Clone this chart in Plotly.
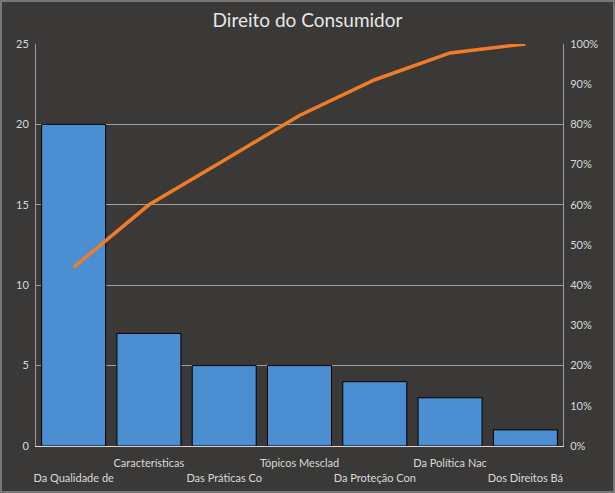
import plotly.graph_objects as go

categories = ["Da Qualidade de", "Características", "Das Práticas Co", "Tópicos Mesclad",
              "Da Proteção Con", "Da Política Nac", "Dos Direitos Bá"]
counts = [20, 7, 5, 5, 4, 3, 1]
total = sum(counts)
cumulative = []
s = 0
for c in counts:
    s += c
    cumulative.append(s / total)

left_ticks = [0, 5, 10, 15, 20, 25]
right_ticks = [i / 10 for i in range(11)]

ticktext = [("<br>" + c) if i % 2 == 0 else c for i, c in enumerate(categories)]

BG = "#3a3938"
TXT = "#d9d9d9"
GRID = "#9e9e9e"

fig = go.Figure()
fig.add_trace(go.Bar(
    x=list(range(len(categories))), y=counts,
    marker=dict(color="#4c8ed2", line=dict(color="#000000", width=1)),
    showlegend=False, hoverinfo="skip",
))
fig.add_trace(go.Scatter(
    x=list(range(len(categories))), y=cumulative, yaxis="y2", mode="lines",
    line=dict(color="#f07c28", width=3.5), showlegend=False,
))

W, H = 615, 493
L, R, T, B = 36, 52, 44, 47
pw, ph = W - L - R, H - T - B

fig.update_layout(
    width=W, height=H,
    margin=dict(l=L, r=R, t=T, b=B),
    paper_bgcolor=BG, plot_bgcolor=BG,
    font=dict(family="Lato, Open Sans, sans-serif", color=TXT, size=11),
    title=dict(text="Direito do Consumidor", x=0.5, xref="container", xanchor="center",
               y=1 - 20 / H, yanchor="middle",
               font=dict(size=19, color="#e6e6e6", family="Lato, Open Sans, sans-serif")),
    bargap=0.15,
    xaxis=dict(tickvals=list(range(len(categories))), ticktext=ticktext, range=[-0.5, 6.5],
               showgrid=False, showline=True, linecolor="#d8d8d8", linewidth=1, ticks="",
               tickfont=dict(size=11, color=TXT), tickangle=0, zeroline=False,
               ticklabelstandoff=7, automargin=False),
    yaxis=dict(range=[0, 25], tickvals=left_ticks, showgrid=True, gridcolor=GRID, gridwidth=1,
               showline=True, linecolor=GRID, linewidth=1, zeroline=False, ticks="",
               tickfont=dict(size=11, color=TXT), ticklabelstandoff=4, automargin=False),
    yaxis2=dict(range=[0, 1], tickvals=right_ticks, tickformat=".0%", overlaying="y", side="right",
                showgrid=False, showline=True, linecolor=GRID, linewidth=1, zeroline=False, ticks="",
                tickfont=dict(size=11, color=TXT), ticklabelstandoff=4, automargin=False),
    shapes=[dict(type="rect", xref="paper", yref="paper",
                 x0=-(L - 1) / pw, x1=1 + (R - 1) / pw,
                 y0=-(B - 1) / ph, y1=1 + (T - 1) / ph,
                 line=dict(color="#8c8c8c", width=1.5), layer="below")],
)

fig.write_html("out.html", config={"displayModeBar": False},
               post_script="document.body.style.margin='0';document.body.style.overflow='hidden';")
